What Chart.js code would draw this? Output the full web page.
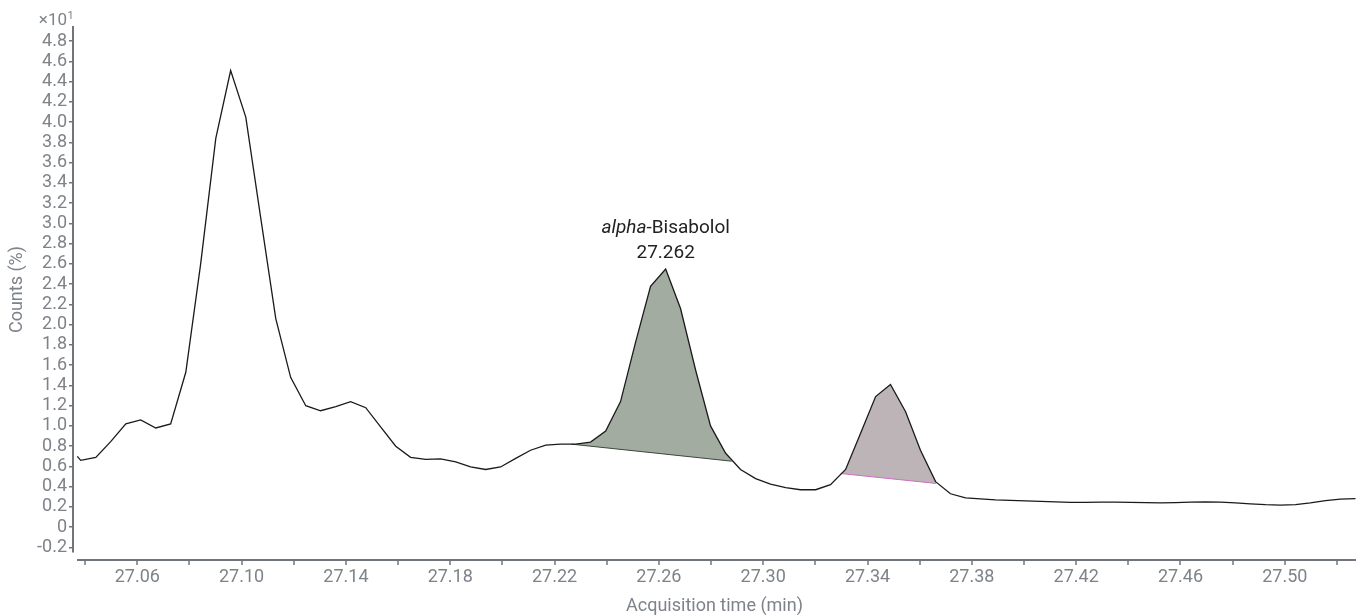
<!DOCTYPE html>
<html><head><meta charset="utf-8">
<script src="https://cdn.jsdelivr.net/npm/chart.js@4.4.1/dist/chart.umd.min.js"></script>
<style>html,body{margin:0;padding:0;background:#fff;}#wrap{width:1356px;height:615px;position:relative;}canvas{display:block;}</style>
</head><body><div id="wrap"><canvas id="c" width="1356" height="615"></canvas></div>
<script>
// ---- data (Counts in units of x10^1 %) ----
const times = [27.0370,27.0383,27.0441,27.0498,27.0556,27.0613,27.0671,27.0728,27.0786,27.0843,
  27.0901,27.0958,27.1016,27.1073,27.1131,27.1188,27.1246,27.1303,27.1361,27.1418,
  27.1476,27.1533,27.1591,27.1648,27.1706,27.1763,27.1821,27.1878,27.1936,27.1993,
  27.2051,27.2108,27.2166,27.2223,27.2281,27.2338,27.2396,27.2453,27.2511,27.2568,
  27.2626,27.2683,27.2741,27.2798,27.2856,27.2913,27.2971,27.3028,27.3086,27.3143,
  27.3201,27.3258,27.3316,27.3373,27.3431,27.3488,27.3546,27.3603,27.3661,27.3718,
  27.3776,27.3833,27.3891,27.3948,27.4006,27.4063,27.4121,27.4178,27.4236,27.4293,
  27.4351,27.4408,27.4466,27.4523,27.4581,27.4638,27.4696,27.4753,27.4811,27.4868,
  27.4926,27.4983,27.5041,27.5098,27.5156,27.5213,27.5271];
const counts = [0.70,0.66,0.69,0.845,1.02,1.06,0.98,1.02,1.53,2.60,
  3.84,4.51,4.05,3.06,2.06,1.48,1.20,1.15,1.19,1.24,
  1.18,0.99,0.80,0.69,0.67,0.675,0.645,0.595,0.57,0.595,
  0.68,0.76,0.81,0.82,0.82,0.84,0.95,1.24,1.83,2.38,
  2.55,2.16,1.55,1.00,0.73,0.57,0.48,0.425,0.39,0.37,
  0.37,0.42,0.57,0.925,1.29,1.41,1.14,0.76,0.45,0.33,
  0.29,0.28,0.27,0.265,0.26,0.255,0.25,0.245,0.245,0.247,
  0.247,0.245,0.242,0.24,0.243,0.247,0.25,0.248,0.24,0.23,
  0.222,0.218,0.222,0.24,0.262,0.278,0.283];

// integrated peak regions (curve part + baseline ends)
const peak1Times = [27.2265,27.2281,27.2338,27.2396,27.2453,27.2511,27.2568,27.2626,27.2683,27.2741,27.2798,27.2856,27.2879];
const peak1Counts = [0.82,0.82,0.84,0.95,1.24,1.83,2.38,2.55,2.16,1.55,1.00,0.73,0.652];
const base1Times = [27.2265,27.2879];
const base1Counts = [0.82,0.652];
const peak2Times = [27.3297,27.3316,27.3373,27.3431,27.3488,27.3546,27.3603,27.3661,27.3663];
const peak2Counts = [0.530,0.57,0.925,1.29,1.41,1.14,0.76,0.45,0.432];
const base2Times = [27.3297,27.3663];
const base2Counts = [0.530,0.432];

const peakLabelName = 'alpha';
const peakLabelRest = '-Bisabolol';
const peakLabelTime = 27.2626;
const peakLabelValue = 2.55;
const peakLabelText = '27.262';

const yTickValues = [-0.2,0,0.2,0.4,0.6,0.8,1.0,1.2,1.4,1.6,1.8,2.0,2.2,2.4,2.6,2.8,3.0,3.2,3.4,3.6,3.8,4.0,4.2,4.4,4.6,4.8];
const xTickValues = [27.04,27.06,27.08,27.10,27.12,27.14,27.16,27.18,27.20,27.22,27.24,27.26,27.28,27.30,27.32,27.34,27.36,27.38,27.40,27.42,27.44,27.46,27.48,27.50,27.52];
const xLabelValues = [27.06,27.10,27.14,27.18,27.22,27.26,27.30,27.34,27.38,27.42,27.46,27.50];

const pts = (xs, ys) => xs.map((x, i) => ({x, y: ys[i]}));
const AXIS = '#70757b';
const TICK = '#7e838a';
const FONT = 'Roboto';

const decoPlugin = {
  id: 'deco',
  afterDraw(chart) {
    const ctx = chart.ctx, xs = chart.scales.x, ys = chart.scales.y, ca = chart.chartArea;
    ctx.save();
    // detached x axis line and tick marks
    const yLine = ca.bottom + 8;
    ctx.strokeStyle = AXIS;
    ctx.lineWidth = 2;
    ctx.beginPath(); ctx.moveTo(ca.left + 4, yLine); ctx.lineTo(ca.right, yLine); ctx.stroke();
    ctx.lineWidth = 1.5;
    xTickValues.forEach(v => {
      const px = Math.round(xs.getPixelForValue(v));
      ctx.beginPath(); ctx.moveTo(px, yLine); ctx.lineTo(px, yLine + 5); ctx.stroke();
    });
    // x10^1 multiplier
    ctx.fillStyle = TICK;
    ctx.textBaseline = 'alphabetic';
    ctx.textAlign = 'right';
    ctx.font = '17px ' + FONT;
    ctx.fillText('\u00d710', 67, 25);
    ctx.textAlign = 'left';
    ctx.font = '11px ' + FONT;
    ctx.fillText('1', 67.5, 19);
    // peak annotation
    const px = xs.getPixelForValue(peakLabelTime);
    const py = ys.getPixelForValue(peakLabelValue);
    ctx.fillStyle = '#222';
    ctx.textBaseline = 'middle';
    ctx.font = 'italic 19px ' + FONT;
    const w1 = ctx.measureText(peakLabelName).width;
    ctx.font = '19px ' + FONT;
    const w2 = ctx.measureText(peakLabelRest).width;
    const start = px - (w1 + w2) / 2;
    ctx.textAlign = 'left';
    ctx.font = 'italic 19px ' + FONT;
    ctx.fillText(peakLabelName, start, py - 41);
    ctx.font = '19px ' + FONT;
    ctx.fillText(peakLabelRest, start + w1, py - 41);
    ctx.textAlign = 'center';
    ctx.fillText(peakLabelText, px, py - 16);
    ctx.restore();
  }
};

new Chart(document.getElementById('c'), {
  type: 'line',
  data: {
    datasets: [
      {data: pts(times, counts), borderColor: '#1a1a1a', borderWidth: 1.3, pointRadius: 0, tension: 0, fill: false},
      {data: pts(base1Times, base1Counts), borderColor: '#3d473d', borderWidth: 1, pointRadius: 0, fill: false},
      {data: pts(base2Times, base2Counts), borderColor: '#cc6fc2', borderWidth: 1, pointRadius: 0, fill: false},
      {data: pts(peak1Times, peak1Counts), borderWidth: 0, borderColor: 'rgba(0,0,0,0)', backgroundColor: '#a2aca1', pointRadius: 0, fill: 'shape'},
      {data: pts(peak2Times, peak2Counts), borderWidth: 0, borderColor: 'rgba(0,0,0,0)', backgroundColor: '#bdb4b8', pointRadius: 0, fill: 'shape'}
    ]
  },
  options: {
    responsive: false,
    animation: false,
    layout: {padding: {top: 27, right: 0, left: 0, bottom: 0}},
    plugins: {legend: {display: false}, tooltip: {enabled: false}},
    scales: {
      x: {
        type: 'linear', min: 27.03535, max: 27.5273,
        afterBuildTicks: s => { s.ticks = xTickValues.map(v => ({value: v})); },
        afterFit: s => { s.height = 63; },
        grid: {display: false, drawTicks: false},
        border: {display: false},
        ticks: {
          autoSkip: false, maxRotation: 0, padding: 15, color: TICK,
          font: {family: FONT, size: 18},
          callback: v => xLabelValues.some(l => Math.abs(l - v) < 1e-6) ? v.toFixed(2) : ''
        },
        title: {display: true, text: 'Acquisition time (min)', color: TICK, font: {family: FONT, size: 18}, padding: {top: 2, bottom: -2}}
      },
      y: {
        type: 'linear', min: -0.245, max: 4.94,
        afterBuildTicks: s => { s.ticks = yTickValues.map(v => ({value: v})); },
        afterFit: s => { s.width = 73; },
        grid: {display: true, drawOnChartArea: false, drawTicks: true, tickLength: 4, color: AXIS, lineWidth: 1.5},
        border: {display: true, color: AXIS, width: 2},
        ticks: {
          autoSkip: false, padding: 2, color: TICK, font: {family: FONT, size: 18},
          callback: v => Math.abs(v) < 1e-9 ? '0' : v.toFixed(1)
        },
        title: {display: true, text: 'Counts (%)', color: TICK, font: {family: FONT, size: 18}, padding: {top: 7, bottom: 0}}
      }
    }
  },
  plugins: [decoPlugin]
});
</script>
</body></html>
